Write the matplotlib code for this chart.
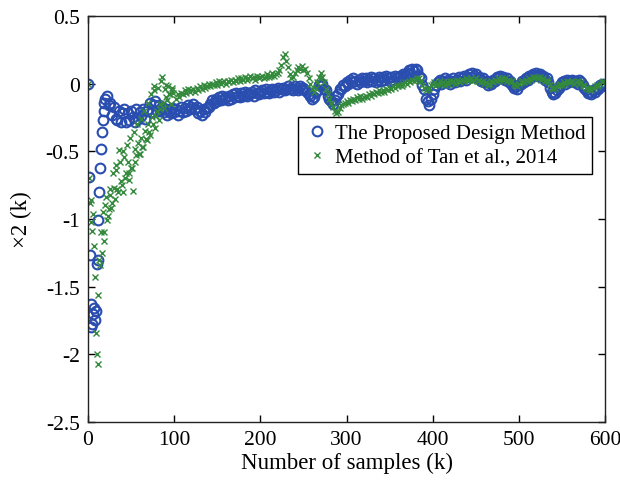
import numpy as np
import matplotlib
matplotlib.use("Agg")
import matplotlib.pyplot as plt

plt.rcParams['font.family'] = ['Liberation Serif', 'DejaVu Serif']

# Proposed design method (blue circles)
k_prop_early = list(range(0, 21))
x2_prop_early = [0.00, -0.69, -1.27, -1.63, -1.80, -1.78, -1.70, -1.66, -1.75, -1.68,
                 -1.33, -1.30, -1.01, -0.80, -0.62, -0.48, -0.36, -0.27, -0.20, -0.14,
                 -0.11]
k_prop_tail = list(range(22, 599, 2))
x2_prop_tail = [
    -0.09, -0.16, -0.14, -0.23, -0.17, -0.26, -0.27, -0.20, -0.28, -0.22,   # 22-40
    -0.19, -0.28, -0.22, -0.27, -0.20, -0.25, -0.28, -0.19, -0.26, -0.21,   # 42-60
    -0.24, -0.19, -0.26, -0.20, -0.19, -0.14, -0.21, -0.16, -0.13, -0.20,   # 62-80
    -0.16, -0.20, -0.17, -0.21, -0.19, -0.23, -0.20, -0.22, -0.18, -0.21,   # 82-100
    -0.19, -0.23, -0.20, -0.17, -0.21, -0.18, -0.20, -0.16, -0.19, -0.17,   # 102-120
    -0.15, -0.19, -0.17, -0.22, -0.20, -0.23, -0.19, -0.21, -0.18, -0.17,   # 122-140
    -0.15, -0.12, -0.14, -0.11, -0.13, -0.10, -0.12, -0.09, -0.11, -0.10,   # 142-160
    -0.12, -0.09, -0.11, -0.08, -0.10, -0.07, -0.09, -0.10, -0.07, -0.09,   # 162-180
    -0.06, -0.09, -0.07, -0.08, -0.06, -0.09, -0.05, -0.07, -0.08, -0.06,   # 182-200
    -0.05, -0.07, -0.04, -0.06, -0.07, -0.05, -0.04, -0.06, -0.05, -0.03,   # 202-220
    -0.06, -0.04, -0.03, -0.05, -0.04, -0.02, -0.04, -0.03, -0.05, -0.02,   # 222-240
    -0.03, -0.05, -0.02, -0.04, -0.03, -0.05, -0.06, -0.08, -0.09, -0.11,   # 242-260
    -0.10, -0.06, -0.05, -0.01, -0.02, 0.00, -0.04, -0.05, -0.09, -0.11,    # 262-280
    -0.13, -0.15, -0.12, -0.09, -0.08, -0.04, -0.04, -0.01, -0.02, 0.01,    # 282-300
    0.00, 0.03, 0.01, 0.04, 0.02, 0.00, 0.03, 0.01, 0.04, 0.02,             # 302-320
    0.04, 0.01, 0.03, 0.05, 0.02, 0.04, 0.01, 0.03, 0.05, 0.02,             # 322-340
    0.05, 0.03, 0.06, 0.04, 0.02, 0.05, 0.03, 0.06, 0.04, 0.05,             # 342-360
    0.06, 0.04, 0.07, 0.06, 0.08, 0.10, 0.08, 0.11, 0.09, 0.11,             # 362-380
    0.10, 0.06, 0.04, -0.01, -0.04, -0.11, -0.13, -0.16, -0.11, -0.08,      # 382-400
    -0.04, -0.01, 0.01, 0.03, 0.00, 0.02, 0.04, 0.01, 0.03, 0.00,           # 402-420
    0.02, 0.04, 0.01, 0.03, 0.05, 0.02, 0.04, 0.06, 0.03, 0.05,             # 422-440
    0.07, 0.05, 0.08, 0.06, 0.07, 0.04, 0.05, 0.02, 0.04, 0.01,             # 442-460
    0.02, -0.01, 0.01, 0.00, 0.03, 0.02, 0.05, 0.04, 0.06, 0.04,            # 462-480
    0.05, 0.03, 0.04, 0.01, 0.02, -0.01, -0.03, -0.02, -0.04, -0.01,        # 482-500
    0.00, 0.02, 0.01, 0.04, 0.03, 0.06, 0.05, 0.07, 0.06, 0.08,             # 502-520
    0.06, 0.07, 0.05, 0.06, 0.03, 0.04, 0.01, -0.03, -0.06, -0.08,          # 522-540
    -0.07, -0.05, -0.03, -0.01, 0.01, 0.02, 0.00, 0.03, 0.01, 0.02,         # 542-560
    0.03, 0.01, 0.02, 0.00, 0.03, 0.01, -0.01, -0.03, -0.05, -0.07,         # 562-580
    -0.06, -0.08, -0.05, -0.06, -0.03, -0.04, -0.01, -0.02, 0.00,           # 582-598
]

# Method of Tan et al., 2014 (green crosses)
k_tan_early = list(range(0, 16))
x2_tan_early = [0.00, -0.70, -0.88, -1.02, -0.86, -1.09, -0.96, -1.20, -1.43, -1.84,
                -2.00, -2.07, -1.56, -1.30, -1.34, -1.10]
k_tan_mid_even = list(range(16, 100, 2))
x2_tan_mid_even = [-1.25, -1.16, -0.90, -1.01, -0.93, -0.82, -0.88, -0.77, -0.64, -0.78,
                   -0.49, -0.72, -0.80, -0.54, -0.66, -0.58, -0.71, -0.62, -0.79, -0.48,
                   -0.53, -0.44, -0.52, -0.40, -0.47, -0.35, -0.42, -0.30, -0.38, -0.25,
                   -0.02, -0.33, -0.20, -0.27, -0.15, 0.05, -0.18, -0.01, -0.12, -0.08,
                   -0.15, -0.05]
k_tan_mid_odd = list(range(17, 100, 2))
x2_tan_mid_odd = [-0.95, -1.10, -0.84, -0.98, -0.78, -0.92, -0.66, -0.85, -0.60, -0.80,
                  -0.58, -0.75, -0.50, -0.70, -0.45, -0.66, -0.40, -0.62, -0.36, -0.58,
                  -0.30, -0.52, -0.26, -0.47, -0.20, -0.41, -0.14, -0.36, -0.08, -0.30,
                  -0.05, -0.24, -0.03, -0.19, 0.02, -0.14, -0.04, -0.10, -0.02, -0.08,
                  -0.03, -0.07]
k_tan_tail = list(range(102, 599, 2))
x2_tan_tail = [
    -0.11, -0.08, -0.10, -0.07, -0.08, -0.05, -0.07, -0.04, -0.06, -0.05,   # 102-120
    -0.04, -0.06, -0.03, -0.05, -0.02, -0.04, -0.01, -0.03, -0.02, 0.00,    # 122-140
    -0.02, 0.00, -0.01, 0.01, -0.01, 0.02, 0.00, 0.01, 0.02, 0.00,          # 142-160
    0.02, 0.01, 0.03, 0.01, 0.03, 0.02, 0.04, 0.02, 0.04, 0.03,             # 162-180
    0.05, 0.03, 0.04, 0.06, 0.04, 0.05, 0.03, 0.06, 0.04, 0.05,             # 182-200
    0.06, 0.04, 0.05, 0.07, 0.05, 0.06, 0.08, 0.06, 0.07, 0.08,             # 202-220
    0.10, 0.14, 0.20, 0.22, 0.17, 0.12, 0.07, 0.04, 0.05, 0.08,             # 222-240
    0.10, 0.12, 0.11, 0.13, 0.10, 0.11, 0.08, 0.04, 0.00, -0.04,            # 242-260
    -0.06, -0.03, 0.01, 0.05, 0.08, 0.05, 0.01, -0.04, -0.08, -0.11,        # 262-280
    -0.14, -0.17, -0.20, -0.22, -0.21, -0.18, -0.16, -0.15, -0.14, -0.13,   # 282-300
    -0.14, -0.12, -0.13, -0.11, -0.12, -0.10, -0.11, -0.09, -0.11, -0.10,   # 302-320
    -0.09, -0.10, -0.08, -0.09, -0.07, -0.08, -0.06, -0.07, -0.05, -0.06,   # 322-340
    -0.05, -0.06, -0.04, -0.05, -0.03, -0.04, -0.02, -0.03, -0.01, -0.02,   # 342-360
    -0.01, -0.02, 0.00, 0.01, 0.00, 0.02, 0.01, 0.03, 0.02, 0.03,           # 362-380
    0.04, 0.04, 0.02, -0.01, -0.03, -0.05, -0.04, -0.03, -0.01, 0.00,       # 382-400
    0.01, -0.01, 0.00, 0.02, 0.00, 0.01, -0.01, 0.01, 0.00, 0.02,           # 402-420
    0.01, 0.02, 0.00, 0.03, 0.02, 0.01, 0.03, 0.02, 0.04, 0.03,             # 422-440
    0.03, 0.04, 0.02, 0.03, 0.04, 0.02, 0.03, 0.01, 0.02, 0.00,             # 442-460
    0.01, -0.01, 0.00, 0.02, 0.01, 0.03, 0.02, 0.04, 0.03, 0.04,            # 462-480
    0.03, 0.04, 0.02, 0.03, 0.01, 0.02, 0.00, -0.01, -0.02, 0.00,           # 482-500
    0.01, 0.02, 0.01, 0.03, 0.02, 0.04, 0.03, 0.05, 0.04, 0.05,             # 502-520
    0.04, 0.05, 0.03, 0.04, 0.02, 0.03, 0.01, -0.01, -0.03, -0.04,          # 522-540
    -0.03, -0.02, -0.01, 0.00, -0.01, 0.01, 0.00, 0.02, 0.01, 0.01,         # 542-560
    0.02, 0.00, 0.01, 0.02, 0.00, 0.01, -0.01, -0.02, -0.03, -0.04,         # 562-580
    -0.04, -0.05, -0.03, -0.02, -0.01, -0.02, 0.00, 0.01, 0.02,             # 582-598
]

k_prop = k_prop_early + k_prop_tail
x2_prop = x2_prop_early + x2_prop_tail
k_tan = k_tan_early + k_tan_mid_even + k_tan_mid_odd + k_tan_tail
x2_tan = x2_tan_early + x2_tan_mid_even + x2_tan_mid_odd + x2_tan_tail

fig = plt.figure(figsize=(6.2, 4.85), dpi=100)
ax = fig.add_axes([0.142, 0.128, 0.834, 0.837])

ax.plot(k_prop, x2_prop, linestyle='none', marker='o', ms=7, mfc='none',
        mec='#2a4db0', mew=1.5, label='The Proposed Design Method')
ax.plot(k_tan, x2_tan, linestyle='none', marker='x', ms=4.5,
        mec='#348a3c', mew=1.0, label='Method of Tan et al., 2014')

ax.set_xlim(0, 600)
ax.set_ylim(-2.5, 0.5)
ax.set_xticks([0, 100, 200, 300, 400, 500, 600])
ax.set_yticks([-2.5, -2, -1.5, -1, -0.5, 0, 0.5])
ax.set_yticklabels(['-2.5', '-2', '-1.5', '-1', '-0.5', '0', '0.5'])
ax.tick_params(direction='in', top=True, right=True, length=5, width=1,
               labelsize=15.5, pad=6)
for s in ax.spines.values():
    s.set_linewidth(1.0)
    s.set_color('#222222')

ax.set_xlabel('Number of samples (k)', fontsize=16.5, labelpad=2)
ax.set_ylabel('×2 (k)', fontsize=16.5, labelpad=10)

leg = ax.legend(loc='upper right', bbox_to_anchor=(0.975, 0.751), fontsize=15,
                frameon=True, fancybox=False, edgecolor='black', framealpha=1,
                handletextpad=0.3, handlelength=1.2, borderpad=0.3,
                labelspacing=0.25, borderaxespad=0)
leg.get_frame().set_linewidth(1.0)

fig.savefig('out.png', dpi=100)
